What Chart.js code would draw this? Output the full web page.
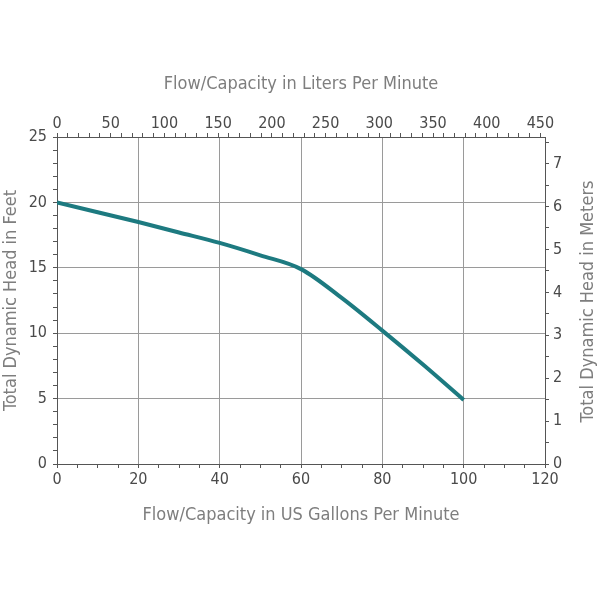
<!DOCTYPE html>
<html lang="en">
<head>
  <meta charset="utf-8"/>
  <title>Pump Performance Curve</title>
  <script src="https://cdn.jsdelivr.net/npm/chart.js@4.4.0/dist/chart.umd.min.js"></script>
  <style>
    html, body { margin: 0; padding: 0; background: #fff; }
    #wrap { width: 600px; height: 600px; }
  </style>
</head>
<body>
<div id="wrap"><canvas id="pumpChart" width="600" height="600"></canvas></div>

<script>
// flow in US gallons per minute, head in feet
const flowGpm = [0, 10, 20, 30, 40, 50, 60, 70, 80, 90, 100];
const headFeet = [20, 19.25, 18.5, 17.7, 16.9, 15.95, 14.9, 12.7, 10.2, 7.6, 4.9];

const gpmMax = 120;
const feetMax = 25;
const LPM_PER_GPM = 3.78541;
const M_PER_FT = 0.3048;

const fontFamily = "'DejaVu Sans Condensed', 'Liberation Sans Narrow', sans-serif";
const titleFont = { family: fontFamily, size: 18, weight: 'normal' };
const tickFont = { family: fontFamily, size: 16 };
const titleColor = '#7e7e7e';
const tickColor = '#4a4a4a';
const gridColor = '#9a9a9a';
const axisColor = '#555';

function majorOnly(step) {
  return ctx => (Math.abs(ctx.tick.value % step) < 1e-6 ? gridColor : 'rgba(0,0,0,0)');
}

// right-hand title reads bottom to top, like the left one
const rightTitle = {
  id: 'rightTitle',
  afterDraw(chart) {
    const c = chart.ctx;
    const area = chart.chartArea;
    c.save();
    c.translate(588, (area.top + area.bottom) / 2 + 1);
    c.rotate(-Math.PI / 2);
    c.font = `${titleFont.weight} ${titleFont.size}px ${fontFamily}`;
    c.fillStyle = titleColor;
    c.textAlign = 'center';
    c.textBaseline = 'middle';
    c.fillText('Total Dynamic Head in Meters', 0, 0);
    c.restore();
  }
};

const ctx = document.getElementById('pumpChart').getContext('2d');
new Chart(ctx, {
  type: 'line',
  data: {
    datasets: [{
      data: flowGpm.map((x, i) => ({ x: x, y: headFeet[i] })),
      borderColor: '#1d7a80',
      borderWidth: 4,
      pointRadius: 0,
      cubicInterpolationMode: 'monotone',
      fill: false,
      xAxisID: 'x',
      yAxisID: 'y'
    }]
  },
  plugins: [rightTitle],
  options: {
    responsive: false,
    animation: false,
    layout: { padding: 0 },
    plugins: { legend: { display: false }, tooltip: { enabled: false } },
    scales: {
      x: {
        type: 'linear', position: 'bottom', min: 0, max: gpmMax,
        afterFit: s => { s.height = 136; },
        ticks: {
          stepSize: 5, autoSkip: false, maxRotation: 0, padding: 2,
          color: tickColor, font: tickFont,
          callback: v => (v % 20 === 0 ? v : '')
        },
        grid: { color: majorOnly(20), tickColor: axisColor, tickLength: 4 },
        border: { color: axisColor },
        title: { display: true, text: 'Flow/Capacity in US Gallons Per Minute', color: titleColor, font: titleFont, padding: { top: 0, bottom: 74 } }
      },
      x2: {
        type: 'linear', position: 'top', min: 0, max: gpmMax * LPM_PER_GPM,
        afterFit: s => { s.height = 137; },
        afterBuildTicks: s => {
          const t = [];
          for (let v = 0; v <= 450; v += 10) t.push({ value: v });
          s.ticks = t;
        },
        ticks: {
          autoSkip: false, maxRotation: 0, padding: 0,
          color: tickColor, font: tickFont,
          callback: v => (v % 50 === 0 ? v : '')
        },
        grid: { drawOnChartArea: false, tickColor: axisColor, tickLength: 4 },
        border: { color: axisColor },
        title: { display: true, text: 'Flow/Capacity in Liters Per Minute', color: titleColor, font: titleFont, padding: { top: 74, bottom: 0 } }
      },
      y: {
        type: 'linear', position: 'left', min: 0, max: feetMax,
        afterFit: s => { s.width = 57; },
        ticks: {
          stepSize: 1, autoSkip: false, padding: 6,
          color: tickColor, font: tickFont,
          callback: v => (v % 5 === 0 ? v : '')
        },
        grid: { color: majorOnly(5), tickColor: axisColor, tickLength: 4 },
        border: { color: axisColor },
        title: { display: true, text: 'Total Dynamic Head in Feet', color: titleColor, font: titleFont, padding: { top: 1, bottom: 0 } }
      },
      y2: {
        type: 'linear', position: 'right', min: 0, max: feetMax * M_PER_FT,
        afterFit: s => { s.width = 55; },
        afterBuildTicks: s => {
          const t = [];
          for (let v = 0; v <= 7.5; v += 0.5) t.push({ value: v });
          s.ticks = t;
        },
        ticks: {
          autoSkip: false, padding: 4,
          color: tickColor, font: tickFont,
          callback: v => (v % 1 === 0 ? v : '')
        },
        grid: { drawOnChartArea: false, tickColor: axisColor, tickLength: 4 },
        border: { color: axisColor },
        title: { display: false }
      }
    }
  }
});
</script>
</body>
</html>
